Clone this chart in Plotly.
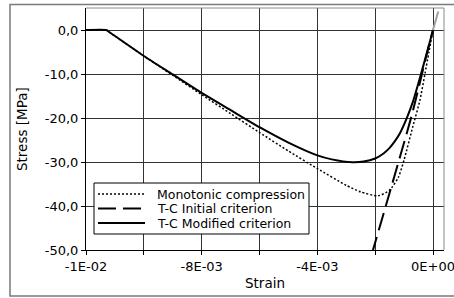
import plotly.graph_objects as go

# ---- data ----
mono_strain = [-0.0120, -0.0113, -0.0112, -0.0100, -0.0090, -0.0080, -0.0070, -0.0060, -0.0050, -0.0040,
               -0.0030, -0.0025, -0.0019, -0.0015, -0.0012, -0.0010, -0.0007, -0.00045, -0.00028,
               -0.00014, 0.0]
mono_stress = [0.0, 0.0, -0.45, -5.9, -10.3, -14.7, -19.0, -23.3, -27.5, -31.5,
               -35.3, -36.8, -37.7, -36.4, -33.5, -29.5, -22.0, -15.9, -10.0,
               -5.0, 0.0]

init_strain = [-0.00212, -0.0015, -0.00074, -0.0004, -0.0002, 0.0]
init_stress = [-51.0, -37.0, -19.5, -10.5, -5.0, 0.0]

mod_strain = [-0.0120, -0.0113, -0.0112, -0.0100, -0.0090, -0.0080, -0.0070, -0.0060, -0.0050, -0.0040,
              -0.0035, -0.0028, -0.0024, -0.0020, -0.0017, -0.0015, -0.0013, -0.00114, -0.0009,
              -0.0007, -0.00045, -0.0002, 0.0]
mod_stress = [0.0, 0.0, -0.45, -5.9, -10.1, -14.3, -18.2, -22.1, -25.6, -28.5,
              -29.4, -30.05, -29.9, -29.2, -28.0, -26.8, -25.1, -23.4, -19.9,
              -16.4, -10.8, -4.9, 0.0]

tension_strain = [0.0, 0.00018]
tension_stress = [0.0, 4.2]

x_tickvals = [-0.012, -0.010, -0.008, -0.006, -0.004, -0.002, 0.0]
x_ticktext = ["-1E-02", "", "-8E-03", "", "-4E-03", "", "0E+00"]
y_tickvals = [-50, -40, -30, -20, -10, 0]
y_ticktext = ["-50,0", "-40,0", "-30,0", "-20,0", "-10,0", "0,0"]

legend_names = ["Monotonic compression", "T-C Initial criterion", "T-C Modified criterion"]

# ---- layout geometry (pixels) ----
W, H = 454, 298
L, R, T, B = 86, 10, 8, 48
PW, PH = W - L - R, H - T - B


def px(x):
    return (x - L) / PW


def py(y):
    return (H - B - y) / PH


FONT = "DejaVu Sans"

fig = go.Figure()
fig.add_trace(go.Scatter(x=mono_strain, y=mono_stress, mode="lines", name=legend_names[0],
                         line=dict(color="black", width=1.5, dash="2px,2px", shape="spline", smoothing=0.6),
                         showlegend=False))
fig.add_trace(go.Scatter(x=init_strain, y=init_stress, mode="lines", name=legend_names[1],
                         line=dict(color="black", width=2, dash="18px,7px", shape="spline", smoothing=0.6),
                         showlegend=False))
fig.add_trace(go.Scatter(x=mod_strain, y=mod_stress, mode="lines", name=legend_names[2],
                         line=dict(color="black", width=2, shape="spline", smoothing=0.6),
                         showlegend=False))
fig.add_trace(go.Scatter(x=tension_strain, y=tension_stress, mode="lines", name="Tension",
                         line=dict(color="#a0a0a0", width=2), showlegend=False))

shapes = [
    # outer chart frame
    dict(type="rect", xref="paper", yref="paper", x0=px(10), x1=px(470), y0=py(296), y1=py(4.5),
         line=dict(color="#7a7a7a", width=1.5), layer="above"),
    # plot area top and right borders
    dict(type="line", xref="paper", yref="paper", x0=0, x1=1, y0=1, y1=1,
         line=dict(color="#8a8a8a", width=1), layer="above"),
    dict(type="line", xref="paper", yref="paper", x0=1, x1=1, y0=0, y1=1,
         line=dict(color="#8a8a8a", width=1), layer="above"),
    # legend box
    dict(type="rect", xref="paper", yref="paper", x0=px(94), x1=px(309), y0=py(234), y1=py(183),
         line=dict(color="black", width=1), fillcolor="white", layer="above"),
]
annotations = [
    dict(text="Stress [MPa]", xref="paper", yref="paper", x=px(22), y=py(129), showarrow=False,
         textangle=-90, font=dict(family=FONT, size=13.5, color="black"), xanchor="center", yanchor="middle"),
    dict(text="Strain", xref="paper", yref="paper", x=px(265), y=py(283), showarrow=False,
         font=dict(family=FONT, size=13.5, color="black"), xanchor="center", yanchor="middle"),
]
leg_y = [194, 208.5, 223]
leg_dash = ["2px,2px", "18px,7px", "solid"]
leg_w = [1.5, 2, 2]
for name, yy, d, w in zip(legend_names, leg_y, leg_dash, leg_w):
    shapes.append(dict(type="line", xref="paper", yref="paper", x0=px(98), x1=px(145), y0=py(yy), y1=py(yy),
                       line=dict(color="black", width=w, dash=d), layer="above"))
    annotations.append(dict(text=name, xref="paper", yref="paper", x=px(155), y=py(yy), showarrow=False,
                            xanchor="left", yanchor="middle",
                            font=dict(family=FONT, size=12.5, color="black")))

axis_common = dict(showgrid=True, gridcolor="#333333", gridwidth=1, zeroline=False,
                   showline=True, linecolor="black", linewidth=1, mirror=False,
                   ticks="outside", ticklen=4, tickwidth=1, tickcolor="black",
                   ticklabeloverflow="allow",
                   tickfont=dict(family=FONT, size=13, color="black"))

fig.update_layout(
    template="none",
    width=W, height=H,
    margin=dict(l=L, r=R, t=T, b=B, pad=0),
    paper_bgcolor="white", plot_bgcolor="white",
    font=dict(family=FONT, size=13, color="black"),
    showlegend=False,
    shapes=shapes, annotations=annotations,
)
fig.update_xaxes(range=[-0.012, 0.00038], tickmode="array", tickvals=x_tickvals, ticktext=x_ticktext,
                 **axis_common)
fig.update_yaxes(range=[-50, 5], tickmode="array", tickvals=y_tickvals, ticktext=y_ticktext,
                 **axis_common)

fig.write_html("out.html", config={"displayModeBar": False},
               post_script="document.body.style.margin='0';")
